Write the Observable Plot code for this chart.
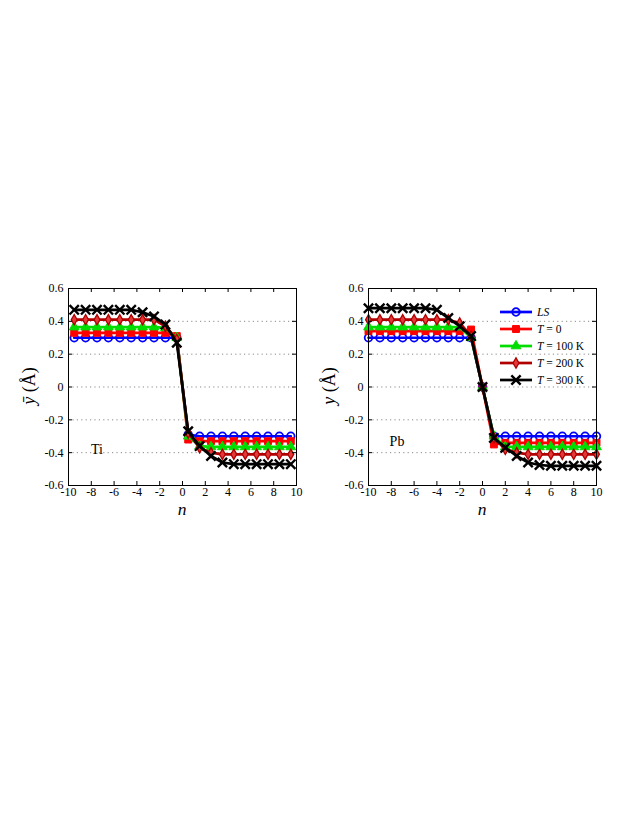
<!DOCTYPE html>
<html><head><meta charset="utf-8">
<script src="https://cdn.jsdelivr.net/npm/d3@7"></script>
<script src="https://cdn.jsdelivr.net/npm/@observablehq/plot@0.6"></script>
<style>
body{margin:0;background:#fff;}
#fig{position:relative;width:638px;height:825px;font-family:"Liberation Serif","DejaVu Serif",serif;color:#000;}
.ylab{position:absolute;transform:translate(-50%,-50%) rotate(-90deg);font-size:18px;white-space:nowrap;}
.xlab{position:absolute;transform:translateX(-50%);font-size:17.5px;line-height:normal;font-style:italic;}
.leg{position:absolute;left:499px;height:16px;display:flex;align-items:center;font-size:11.5px;white-space:nowrap;}
.leg svg{margin-right:4px;}
</style></head><body>
<div id="fig"></div>
<script>
// ---- data ----
const tiN = [-9.5,-8.5,-7.5,-6.5,-5.5,-4.5,-3.5,-2.5,-1.5,-0.5,0.5,1.5,2.5,3.5,4.5,5.5,6.5,7.5,8.5,9.5];
const tiLS   = [0.30,0.30,0.30,0.30,0.30,0.30,0.30,0.30,0.30,0.30,-0.29,-0.30,-0.30,-0.30,-0.30,-0.30,-0.30,-0.30,-0.30,-0.30];
const tiT0   = [0.33,0.33,0.33,0.33,0.33,0.33,0.33,0.33,0.33,0.31,-0.32,-0.33,-0.33,-0.33,-0.33,-0.33,-0.33,-0.33,-0.33,-0.33];
const tiT100 = [0.365,0.365,0.365,0.365,0.365,0.365,0.365,0.365,0.36,0.30,-0.30,-0.36,-0.365,-0.365,-0.365,-0.365,-0.365,-0.365,-0.365,-0.365];
const tiT200 = [0.41,0.41,0.41,0.41,0.41,0.41,0.41,0.41,0.37,0.29,-0.28,-0.37,-0.40,-0.41,-0.41,-0.41,-0.41,-0.41,-0.41,-0.41];
const tiT300 = [0.47,0.47,0.47,0.47,0.47,0.47,0.455,0.43,0.38,0.27,-0.27,-0.36,-0.42,-0.46,-0.47,-0.47,-0.47,-0.47,-0.47,-0.47];

const pbN = [-10,-9,-8,-7,-6,-5,-4,-3,-2,-1,0,1,2,3,4,5,6,7,8,9,10];
const pbLS   = [0.30,0.30,0.30,0.30,0.30,0.30,0.30,0.30,0.30,0.30,0,-0.30,-0.30,-0.30,-0.30,-0.30,-0.30,-0.30,-0.30,-0.30,-0.30];
const pbT0   = [0.34,0.34,0.34,0.34,0.34,0.34,0.34,0.34,0.34,0.35,0,-0.35,-0.34,-0.34,-0.34,-0.34,-0.34,-0.34,-0.34,-0.34,-0.34];
const pbT100 = [0.365,0.365,0.365,0.365,0.365,0.365,0.365,0.365,0.365,0.30,0,-0.30,-0.365,-0.365,-0.365,-0.365,-0.365,-0.365,-0.365,-0.365,-0.365];
const pbT200 = [0.41,0.41,0.41,0.41,0.41,0.41,0.41,0.41,0.39,0.31,0,-0.31,-0.38,-0.40,-0.41,-0.41,-0.41,-0.41,-0.41,-0.41,-0.41];
const pbT300 = [0.48,0.48,0.48,0.48,0.48,0.48,0.47,0.42,0.37,0.31,0,-0.31,-0.37,-0.42,-0.46,-0.475,-0.48,-0.48,-0.48,-0.48,-0.48];

const xTicks = [-10,-8,-6,-4,-2,0,2,4,6,8,10];
const yTicks = [-0.6,-0.4,-0.2,0,0.2,0.4,0.6];
const gridTicks = [-0.4,-0.2,0,0.2,0.4];
const seriesNames = ["LS","T = 0","T = 100 K","T = 200 K","T = 300 K"];
const tiTag = {text:"Ti", n:-7.5, y:-0.38};
const pbTag = {text:"Pb", n:-7.5, y:-0.33};

// ---- styles ----
const sStroke = ["#0000ff","#ff0000","#00dd00","#b00000","#000000"];
const sFill   = ["none","#ff0000","#00dd00","#e23a3a","none"];
const sSymbol = ["circle","square","triangle","diamond","times"];
const sR      = [3.8,3.9,3.6,3.1,4.3];
const sSW     = [1.8,1,1,1.3,2.4];

const W = 290, H = 250, mL = 48, mR = 14, mT = 18, mB = 35;
const pw = W - mL - mR, ph = H - mT - mB;
const fmt = d => String(d);

function panel(nArr, seriesArr, tag, left) {
  const marks = [
    Plot.gridY(gridTicks, {stroke:"#8a8a8a", strokeOpacity:1, strokeDasharray:"1.2,3.2", strokeWidth:1}),
  ];
  seriesArr.forEach((ys, i) => {
    const data = nArr.map((n, j) => ({n, y: ys[j]}));
    marks.push(Plot.line(data, {x:"n", y:"y", stroke:sStroke[i], strokeWidth:2.7}));
    marks.push(Plot.dot(data, {x:"n", y:"y", symbol:sSymbol[i], r:sR[i], stroke:sStroke[i], fill:sFill[i], strokeWidth:sSW[i]}));
  });
  marks.push(
    Plot.frame({stroke:"#000", strokeWidth:1}),
    Plot.ruleY(yTicks, {stroke:"#000", insetRight: pw - 4}),
    Plot.ruleY(yTicks, {stroke:"#000", insetLeft: pw - 4}),
    Plot.ruleX(xTicks, {stroke:"#000", insetTop: ph - 4}),
    Plot.ruleX(xTicks, {stroke:"#000", insetBottom: ph - 4}),
    Plot.axisX(xTicks, {tickSize:0, tickPadding:2, tickFormat:fmt, fontSize:12}),
    Plot.axisY(yTicks, {tickSize:0, tickPadding:5, tickFormat:fmt, fontSize:12}),
    Plot.text([tag], {x:"n", y:"y", text:"text", fontSize:14, textAnchor:"middle"})
  );
  const svg = Plot.plot({
    width: W, height: H, marginLeft: mL, marginRight: mR, marginTop: mT, marginBottom: mB,
    x: {domain: [-10, 10], label: null},
    y: {domain: [-0.6, 0.6], label: null},
    style: {fontFamily: '"Liberation Serif", serif', fontSize: "12px", color: "#000", background: "transparent", overflow: "visible"},
    marks
  });
  svg.style.position = "absolute";
  svg.style.top = "270px";
  svg.style.left = left + "px";
  return svg;
}

const fig = document.getElementById("fig");
fig.appendChild(panel(tiN, [tiLS, tiT0, tiT100, tiT200, tiT300], tiTag, 20));
fig.appendChild(panel(pbN, [pbLS, pbT0, pbT100, pbT200, pbT300], pbTag, 320));

// axis labels
function addDiv(cls, html, x, y) {
  const d = document.createElement("div");
  d.className = cls; d.innerHTML = html;
  d.style.left = x + "px"; d.style.top = y + "px";
  fig.appendChild(d);
}
addDiv("ylab", "<i>ȳ</i> (Å)", 29, 386);
addDiv("ylab", "<i>y</i> (Å)", 329, 386);
addDiv("xlab", "n", 182, 499);
addDiv("xlab", "n", 482, 499);

// legend
const legLabels = ["<i>LS</i>", "<i>T</i> = 0", "<i>T</i> = 100 K", "<i>T</i> = 200 K", "<i>T</i> = 300 K"];
seriesNames.forEach((name, i) => {
  const row = document.createElement("div");
  row.className = "leg";
  row.style.top = (304 + i * 17.1) + "px";
  row.title = name;
  const s = d3.create("svg").attr("width", 34).attr("height", 16);
  s.append("line").attr("x1", 1).attr("x2", 33).attr("y1", 8).attr("y2", 8)
    .attr("stroke", sStroke[i]).attr("stroke-width", 2.7);
  const typeMap = {circle: d3.symbolCircle, square: d3.symbolSquare, triangle: d3.symbolTriangle, diamond: d3.symbolDiamond, times: d3.symbolTimes};
  s.append("path").attr("transform", "translate(17,8)")
    .attr("d", d3.symbol(typeMap[sSymbol[i]], Math.PI * sR[i] * sR[i])())
    .attr("stroke", sStroke[i]).attr("fill", sFill[i]).attr("stroke-width", sSW[i]);
  row.appendChild(s.node());
  const t = document.createElement("span");
  t.innerHTML = legLabels[i];
  row.appendChild(t);
  fig.appendChild(row);
});
</script>
</body></html>
